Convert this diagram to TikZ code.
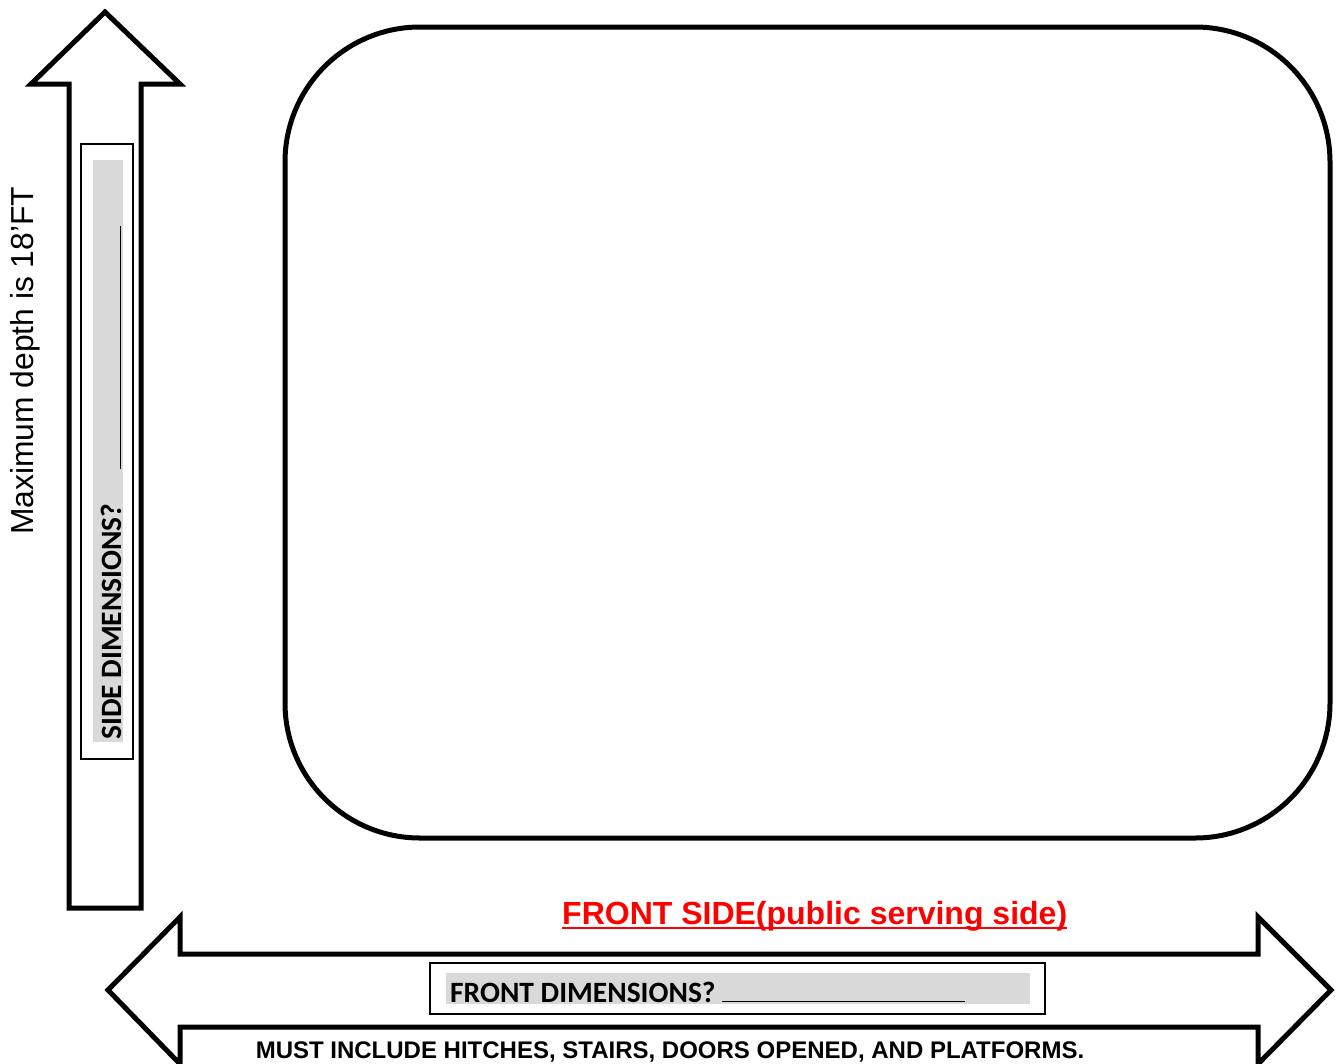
\documentclass[tikz,border=0pt]{standalone}
\usepackage{fontspec}
\setmainfont{Liberation Sans}
\newfontfamily\calib{Carlito}
\begin{document}
\begin{tikzpicture}[x=1pt,y=-1pt,
  thick outline/.style={draw=black,line width=5pt,miter limit=10,fill=white},
  thinbox/.style={draw=black,line width=1.3pt,fill=white},
  grayfill/.style={fill=graybg,draw=none}]
\definecolor{graybg}{HTML}{D9D9D9}
\definecolor{redtxt}{HTML}{FF0000}
\useasboundingbox (0,0) rectangle (1338,1063);
% up arrow
\draw[thick outline] (105,12) -- (180,84) -- (141,84) -- (141,908) -- (69,908) -- (69,84) -- (31,84) -- cycle;
\node[thinbox,minimum width=52pt,minimum height=615pt,inner sep=0pt] (sidebox) at (107,451.5) {};
\node[grayfill,minimum width=30pt,minimum height=582pt,inner sep=0pt] (sidegray) at (108,451) {};
\node[rotate=90,anchor=base west,inner sep=0pt] (sidetxt) at (121,740) {\calib\bfseries\fontsize{29.5}{31}\selectfont SIDE DIMENSIONS?\hspace{34pt}\rule{243pt}{1.2pt}};
% max depth label
\node[rotate=90,anchor=base west,inner sep=0pt] (depth) at (33,535) {\fontsize{31.8}{34}\selectfont Maximum depth is 18'FT};
% main rounded box
\draw[line width=5pt,rounded corners=135pt] (285,27) rectangle (1330,838);
\coordinate (mainbox) at (807,432);
% double arrow
\draw[thick outline] (108,990) -- (180,917) -- (180,954) -- (1258,954) -- (1258,917) -- (1331,990) -- (1258,1064) -- (1258,1027) -- (180,1027) -- (180,1064) -- cycle;
\node[thinbox,minimum width=615pt,minimum height=51pt,inner sep=0pt] (frontbox) at (737.5,988.5) {};
\node[grayfill,minimum width=584pt,minimum height=31pt,inner sep=0pt] (frontgray) at (738,988.5) {};
\node[anchor=base west,inner sep=0pt] (fronttxt) at (450,1002) {\calib\bfseries\fontsize{29.5}{31}\selectfont FRONT DIMENSIONS? \rule{243pt}{1.2pt}};
% red heading
\node[anchor=base west,inner sep=0pt,text=redtxt] (heading) at (562,924) {\bfseries\fontsize{32}{34}\selectfont FRONT SIDE(public serving side)};
\draw[redtxt,line width=2.5pt] ([yshift=-4pt]heading.base west) -- ([yshift=-4pt]heading.base east);
% bottom note
\node[anchor=base,inner sep=0pt] (note) at (670,1058) {\bfseries\fontsize{24}{26}\selectfont MUST INCLUDE HITCHES, STAIRS, DOORS OPENED, AND PLATFORMS.};
\end{tikzpicture}
\end{document}
